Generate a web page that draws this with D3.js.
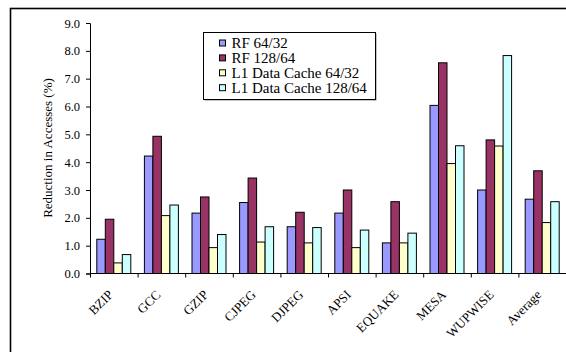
<!DOCTYPE html>
<html><head><meta charset="utf-8">
<script src="https://cdn.jsdelivr.net/npm/d3@7"></script>
<style>body{margin:0;background:#fff}svg{display:block}svg text{font-family:"Liberation Serif",serif !important;fill:#000}</style>
</head><body>
<script>
const categories = ["BZIP","GCC","GZIP","CJPEG","DJPEG","APSI","EQUAKE","MESA","WUPWISE","Average"];
const seriesNames = ["RF 64/32","RF 128/64","L1 Data Cache 64/32","L1 Data Cache 128/64"];
const rf6432   = [1.23,4.22,2.17,2.55,1.68,2.17,1.10,6.04,3.00,2.67];
const rf12864  = [1.95,4.93,2.75,3.43,2.20,3.00,2.58,7.57,4.80,3.69];
const l16432   = [0.38,2.08,0.93,1.13,1.10,0.93,1.10,3.95,4.58,1.83];
const l112864  = [0.68,2.46,1.40,1.68,1.65,1.56,1.45,4.59,7.83,2.58];
const seriesValues = [rf6432, rf12864, l16432, l112864];
const colors = ["#9999FF","#993366","#FFFFCC","#CCFFFF"];
const yTicks = [0,1,2,3,4,5,6,7,8,9];

const W=566,H=352;
const FONT="'Liberation Serif', serif";
const svg=d3.select("body").append("svg").attr("width",W).attr("height",H);
// outer frame
svg.append("rect").attr("x",10.5).attr("y",8.5).attr("width",700).attr("height",500)
  .attr("fill","none").attr("stroke","#000").attr("stroke-width",1.6);

const pLeft=90,pRight=566,pTop=23,pBottom=273.5;
const x0=d3.scaleBand().domain(categories).range([pLeft,pRight]).padding(0);
const x1=d3.scaleBand().domain(d3.range(4)).range([0,x0.bandwidth()]).paddingInner(0).paddingOuter(0.8);
const y=d3.scaleLinear().domain([0,9]).range([pBottom,pTop]);

// bars
categories.forEach((c,i)=>{
  seriesValues.forEach((vals,s)=>{
    svg.append("rect").attr("x",x0(c)+x1(s)).attr("y",y(vals[i]))
      .attr("width",x1.bandwidth()).attr("height",y(0)-y(vals[i]))
      .attr("fill",colors[s]).attr("stroke","#000").attr("stroke-width",1);
  });
});

// y axis
const ya=svg.append("g").attr("transform",`translate(${pLeft},0)`)
  .call(d3.axisLeft(y).tickValues(yTicks).tickFormat(d3.format(".1f")).tickSize(4).tickPadding(6));
ya.attr("font-family",FONT);
ya.select(".domain").attr("stroke","#000");
ya.selectAll("text").attr("font-family",FONT).style("font-size","12.5px");

// x axis line + ticks at boundaries
const xa=svg.append("g").attr("transform",`translate(0,${pBottom})`);
xa.append("line").attr("x1",pLeft).attr("x2",pRight).attr("stroke","#000");
categories.forEach(c=>{
  xa.append("line").attr("x1",x0(c)+0.5).attr("x2",x0(c)+0.5).attr("y1",0).attr("y2",4).attr("stroke","#000");
});
categories.forEach(c=>{
  const cx=x0(c)+x0.bandwidth()/2;
  svg.append("text").attr("transform",`translate(${cx},${pBottom+22}) rotate(-45)`)
    .attr("font-family",FONT).attr("text-anchor","end").style("font-size","13px").text(c);
});

// y label
svg.append("text").attr("transform",`translate(52,148) rotate(-90)`).attr("text-anchor","middle")
  .attr("font-family",FONT).style("font-size","13px").text("Reduction in Accesses (%)");

// legend
const lg=svg.append("g");
lg.append("rect").attr("x",204.5).attr("y",33.5).attr("width",172).attr("height",67).attr("fill","#888");
lg.append("rect").attr("x",203.5).attr("y",32.5).attr("width",172).attr("height",67).attr("fill","#fff").attr("stroke","#000");
seriesNames.forEach((n,i)=>{
  const cy=43.5+i*14.9;
  lg.append("rect").attr("x",219.5).attr("y",cy-3.5).attr("width",6).attr("height",6)
    .attr("fill",colors[i]).attr("stroke","#000");
  lg.append("text").attr("x",231.5).attr("y",cy+4.5).attr("font-family",FONT).style("font-size","15px").text(n);
});
</script>
</body></html>
